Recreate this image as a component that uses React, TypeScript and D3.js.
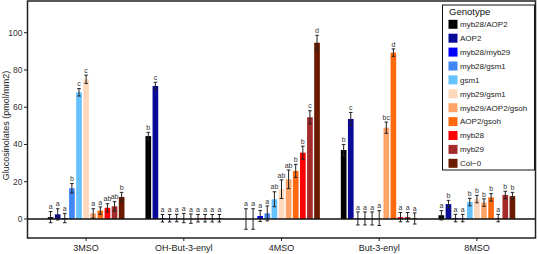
import React from "react";
import * as d3 from "d3";

const categories = ["3MSO", "OH-But-3-enyl", "4MSO", "But-3-enyl", "8MSO"];
const genotypes = [
  "myb28/AOP2", "AOP2", "myb28/myb29", "myb28/gsm1", "gsm1", "myb29/gsm1",
  "myb29/AOP2/gsoh", "AOP2/gsoh", "myb28", "myb29", "Col−0",
];
const genotypeColors = [
  "#000000", "#0a0a99", "#0000ff", "#3f87f5", "#66c2ff", "#ffd8bb",
  "#ffa366", "#ff6a10", "#ff0000", "#a52a2a", "#6b1a00",
];

const values3MSO = [1, 2.5, 0.5, 16.5, 68, 75, 3, 4.5, 6, 6.8, 11.8];
const errors3MSO = [3, 3, 2.5, 2.5, 2, 2.2, 2.5, 2, 2.2, 2.5, 2.5];
const letters3MSO = ["a", "a", "a", "b", "c", "c", "a", "a", "ab", "ab", "b"];

const valuesOHBut = [44.5, 71.4, 0.4, 0.4, 0.5, 0.5, 0.2, 0.4, 0.4, 0.4, 0.4];
const errorsOHBut = [2, 2, 2, 2, 2, 2.5, 2.5, 2, 2, 2, 2];
const lettersOHBut = ["b", "c", "a", "a", "a", "a", "a", "a", "a", "a", "a"];

const values4MSO = [0, 0, 1.6, 3, 10.6, 16, 21.3, 25.8, 35.6, 54.6, 94.6];
const errors4MSO = [5.5, 5.5, 3, 4, 4, 5, 5, 3.5, 3.5, 3.5, 4];
const letters4MSO = ["a", "a", "a", "a", "ab", "ab", "ab", "b", "b", "c", "d"];

const valuesBut = [37, 53.7, 0.3, 0.3, 0.3, 0.5, 49, 89.3, 1, 1, 0.3];
const errorsBut = [3, 3.5, 3.5, 3.5, 3.5, 4, 3, 2, 2.5, 2.5, 3];
const lettersBut = ["b", "c", "a", "a", "a", "a", "bc", "d", "a", "a", "a"];

const values8MSO = [2, 8, 0.5, 0.5, 9.1, 10.7, 8.8, 11.6, 0.5, 12.9, 12.3];
const errors8MSO = [2.5, 2, 2, 2, 2, 2, 2, 2, 2, 2, 2];
const letters8MSO = ["a", "b", "a", "a", "b", "b", "b", "b", "a", "b", "b"];

const groupValues = [values3MSO, valuesOHBut, values4MSO, valuesBut, values8MSO];
const groupErrors = [errors3MSO, errorsOHBut, errors4MSO, errorsBut, errors8MSO];
const groupLetters = [letters3MSO, lettersOHBut, letters4MSO, lettersBut, letters8MSO];

const yTicks = [0, 20, 40, 60, 80, 100];

const W = 538;
const H = 254;
const FONT = "'Liberation Sans', Arial, Helvetica, sans-serif";

export default function App() {
  const left = 27.5;
  const right = 535.5;
  const top = 1;
  const bottom = 238;

  const xGroup = d3.scaleLinear().domain([0.4, categories.length + 0.6]).range([left, right]);
  const unit = xGroup(1) - xGroup(0);
  const xInner = d3
    .scaleBand<string>()
    .domain(genotypes)
    .range([-0.4 * unit, 0.4 * unit])
    .paddingInner(0.2)
    .paddingOuter(0.1);
  const y = d3.scaleLinear().domain([-10.2, 117]).range([bottom, top]);

  const capW = 3.6;

  return (
    <svg width={W} height={H} style={{ position: "absolute", left: 0, top: 0, background: "#fff" }}>
      {categories.map((cat, gi) => {
        const cx = xGroup(gi + 1);
        return (
          <g key={cat}>
            {genotypes.map((g, i) => {
              const v = groupValues[gi][i];
              const e = groupErrors[gi][i];
              const bx = cx + (xInner(g) as number);
              const bw = xInner.bandwidth();
              const mid = bx + bw / 2;
              const y0 = y(0);
              const yv = y(v);
              const yHi = y(v + e);
              const yLo = y(v - e);
              return (
                <g key={g}>
                  <rect
                    x={bx}
                    y={Math.min(y0, yv)}
                    width={bw}
                    height={Math.abs(y0 - yv)}
                    fill={genotypeColors[i]}
                  />
                  <line x1={mid} x2={mid} y1={yHi} y2={yLo} stroke="#222" strokeWidth={1} />
                  <line x1={mid - capW / 2} x2={mid + capW / 2} y1={yHi} y2={yHi} stroke="#222" strokeWidth={1} />
                  <line x1={mid - capW / 2} x2={mid + capW / 2} y1={yLo} y2={yLo} stroke="#222" strokeWidth={1} />
                  <text
                    x={mid}
                    y={yHi - 2.3}
                    textAnchor="middle"
                    fontFamily={FONT}
                    fontSize={7}
                    fill="#333"
                  >
                    {groupLetters[gi][i]}
                  </text>
                </g>
              );
            })}
          </g>
        );
      })}

      <line x1={left} x2={right} y1={y(0)} y2={y(0)} stroke="#111" strokeWidth={1.5} />

      <rect x={left} y={top} width={right - left} height={bottom - top} fill="none" stroke="#222" strokeWidth={1.5} />

      {yTicks.map((t) => (
        <g key={t}>
          <line x1={left - 3.5} x2={left} y1={y(t)} y2={y(t)} stroke="#222" strokeWidth={1} />
          <text
            x={left - 5}
            y={y(t)}
            dy="0.35em"
            textAnchor="end"
            fontFamily={FONT}
            fontSize={8.5}
            fill="#333"
          >
            {t}
          </text>
        </g>
      ))}

      {categories.map((c, gi) => (
        <g key={c}>
          <line x1={xGroup(gi + 1)} x2={xGroup(gi + 1)} y1={bottom} y2={bottom + 3} stroke="#222" strokeWidth={1} />
          <text
            x={xGroup(gi + 1)}
            y={251}
            textAnchor="middle"
            fontFamily={FONT}
            fontSize={9}
            fill="#222"
          >
            {c}
          </text>
        </g>
      ))}

      <text
        transform={`translate(8.5, ${(top + bottom) / 2 + 6}) rotate(-90)`}
        textAnchor="middle"
        fontFamily={FONT}
        fontSize={9}
        fill="#222"
      >
        Glucosinolates (pmol/mm2)
      </text>

      <g>
        <rect x={442.5} y={5} width={92} height={165} fill="#fff" stroke="#111" strokeWidth={1} />
        <text x={449} y={15} fontFamily={FONT} fontSize={9.5} fill="#111">
          Genotype
        </text>
        {genotypes.map((g, i) => {
          const cy = 24.3 + i * 13.9;
          return (
            <g key={g}>
              <rect x={448.5} y={cy - 4.5} width={9} height={9} fill={genotypeColors[i]} />
              <text x={460} y={cy} dy="0.35em" fontFamily={FONT} fontSize={8} fill="#222">
                {g}
              </text>
            </g>
          );
        })}
      </g>
    </svg>
  );
}
